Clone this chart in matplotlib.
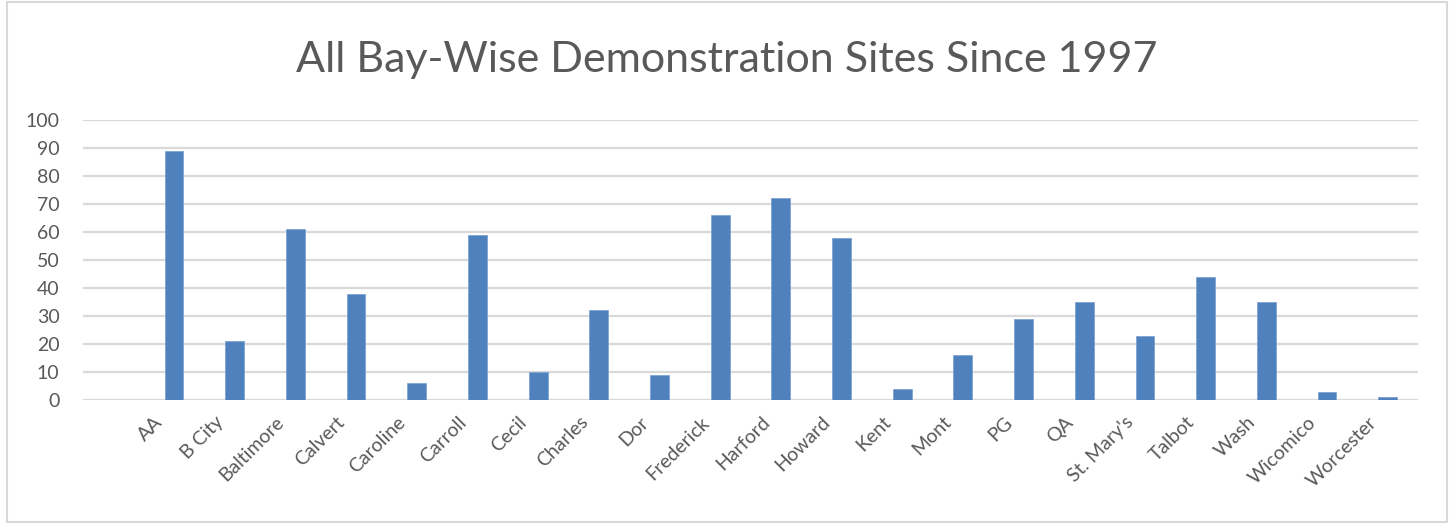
import matplotlib
matplotlib.use("Agg")
import matplotlib.pyplot as plt
from matplotlib.patches import Rectangle
from matplotlib.transforms import ScaledTranslation

counties = ['AA', 'B City', 'Baltimore', 'Calvert', 'Caroline', 'Carroll', 'Cecil', 'Charles', 'Dor',
            'Frederick', 'Harford', 'Howard', 'Kent', 'Mont', 'PG', 'QA', "St. Mary's", 'Talbot', 'Wash',
            'Wicomico', 'Worcester']
sites = [89, 21, 61, 38, 6, 59, 10, 32, 9, 66, 72, 58, 4, 16, 29, 35, 23, 44, 35, 3, 1]
yticks = [0, 10, 20, 30, 40, 50, 60, 70, 80, 90, 100]

plt.rcParams['font.family'] = ['Lato', 'DejaVu Sans']
text_color = '#595959'
grid_color = '#D9D9D9'

fig = plt.figure(figsize=(14.53, 5.23), dpi=100)
ax = fig.add_axes([83 / 1453, 1 - 400 / 523, (1418 - 83) / 1453, 280 / 523])

x = list(range(len(counties)))
ax.bar(x, sites, width=0.31, color='#4F81BD', edgecolor='#7FA3D3', linewidth=0.6, zorder=3)

ax.set_ylim(0, 100)
ax.set_xlim(-1.5, len(counties) - 0.5)
ax.set_yticks(yticks)
ax.set_yticklabels([str(v) for v in yticks])
ax.set_xticks(x)
ax.set_xticklabels(counties, rotation=45, ha='right', va='center', rotation_mode='anchor')
ax.yaxis.grid(True, color=grid_color, linewidth=1.6, zorder=0)
ax.tick_params(axis='both', length=0, colors=text_color, labelsize=14)
ax.tick_params(axis='y', pad=17)
ax.tick_params(axis='x', pad=14)
for s in ax.spines.values():
    s.set_visible(False)

offset = ScaledTranslation(-10 / 72, 0, fig.dpi_scale_trans)
for lbl in ax.get_xticklabels():
    lbl.set_transform(lbl.get_transform() + offset)

fig.text(0.5, 1 - 60 / 523, 'All Bay-Wise Demonstration Sites Since 1997', ha='center', va='center',
         fontsize=31, color=text_color)

fig.patches.append(Rectangle((7 / 1453, 0.002), (1447 - 7) / 1453, 0.995, transform=fig.transFigure,
                             fill=False, edgecolor=grid_color, linewidth=1.5))

fig.savefig('out.png', dpi=100)
